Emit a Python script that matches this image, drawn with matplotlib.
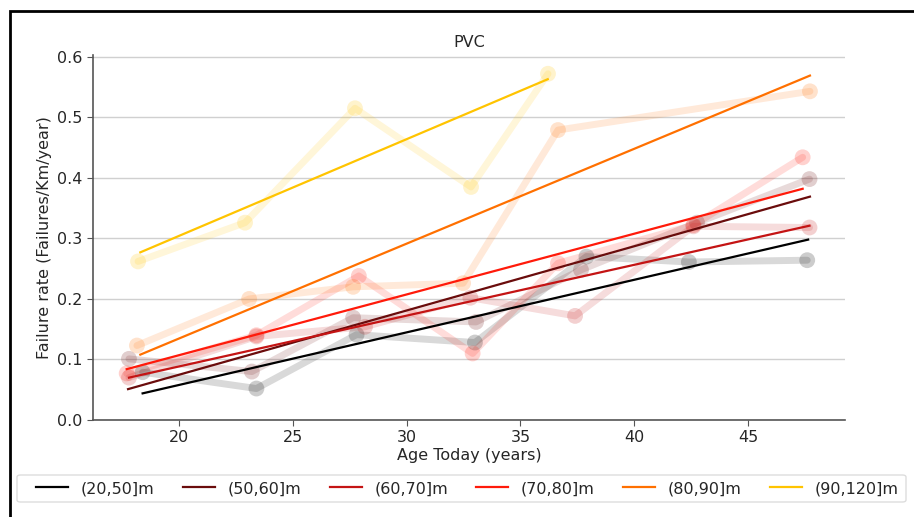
import numpy as np
import matplotlib.pyplot as plt
from matplotlib.patches import Rectangle, FancyBboxPatch

# 관로 길이 구간 (legend)
labels = ["(20,50]m", "(50,60]m", "(60,70]m", "(70,80]m", "(80,90]m", "(90,120]m"]
colors = ["#000000", "#6a0c0c", "#c41414", "#ff1a0a", "#ff7000", "#ffc400"]

# 관측값 (Age Today, Failure rate)
age_2050 = [18.4, 23.4, 27.8, 33.0, 37.9, 42.4, 47.6]
rate_2050 = [0.079, 0.052, 0.141, 0.128, 0.270, 0.261, 0.264]
age_5060 = [17.8, 23.2, 27.65, 33.05, 37.66, 42.76, 47.7]
rate_5060 = [0.101, 0.080, 0.169, 0.162, 0.248, 0.326, 0.398]
age_6070 = [17.8, 23.4, 28.17, 32.8, 37.4, 42.6, 47.7]
rate_6070 = [0.070, 0.138, 0.154, 0.202, 0.172, 0.320, 0.318]
age_7080 = [17.7, 23.4, 27.9, 32.9, 36.65, 42.6, 47.4]
rate_7080 = [0.077, 0.140, 0.238, 0.110, 0.259, 0.322, 0.434]
age_8090 = [18.15, 23.08, 27.65, 32.48, 36.65, 47.72]
rate_8090 = [0.123, 0.200, 0.220, 0.226, 0.479, 0.543]
age_90120 = [18.2, 22.9, 27.73, 32.83, 36.21]
rate_90120 = [0.262, 0.326, 0.515, 0.385, 0.572]

ages = [age_2050, age_5060, age_6070, age_7080, age_8090, age_90120]
rates = [rate_2050, rate_5060, rate_6070, rate_7080, rate_8090, rate_90120]

# 추세선 양 끝점
trend_x0 = [18.4, 17.76, 17.8, 17.7, 18.3, 18.3]
trend_x1 = [47.64, 47.72, 47.7, 47.4, 47.72, 36.2]
trend_y0 = [0.044, 0.051, 0.070, 0.084, 0.108, 0.277]
trend_y1 = [0.298, 0.369, 0.321, 0.382, 0.569, 0.563]

txt = "#262626"
plt.rcParams['text.color'] = txt
plt.rcParams['axes.labelcolor'] = txt
plt.rcParams['xtick.color'] = txt
plt.rcParams['ytick.color'] = txt

fig = plt.figure(figsize=(9.14, 5.17), dpi=100)
ax = fig.add_axes([93 / 914, 1 - 420 / 517, 752 / 914, 365 / 517])

handles = []
for i in range(len(labels)):
    ax.plot(ages[i], rates[i], color=colors[i], alpha=0.15, lw=5, solid_capstyle='round', zorder=1)
    ax.scatter(ages[i], rates[i], color=colors[i], alpha=0.2, s=130, edgecolors='none', zorder=2)
    h, = ax.plot([trend_x0[i], trend_x1[i]], [trend_y0[i], trend_y1[i]], color=colors[i], lw=1.6,
                 label=labels[i], zorder=3)
    handles.append(h)

ax.set_xlim(16.22, 49.26)
ax.set_ylim(0, 0.603)
ax.set_xticks([20, 25, 30, 35, 40, 45])
ax.set_yticks([0.0, 0.1, 0.2, 0.3, 0.4, 0.5, 0.6])
ax.yaxis.grid(True, color="#d0d0d0", lw=1)
ax.set_axisbelow(True)
for s in ["top", "right"]:
    ax.spines[s].set_visible(False)
for s in ["left", "bottom"]:
    ax.spines[s].set_color("#555555")
    ax.spines[s].set_linewidth(1.2)
ax.tick_params(labelsize=11.5, color="#555555", length=4)
ax.set_xlabel("Age Today (years)", fontsize=11.5, labelpad=2)
ax.set_ylabel("Failure rate (Failures/Km/year)", fontsize=11.5)
ax.set_title("PVC", fontsize=11.5)

# 범례: 내용은 expand, 테두리는 따로
fig.legend(handles=handles, loc="center", ncol=6, mode="expand", fontsize=11.5,
           bbox_to_anchor=(30 / 914, 1 - 503 / 517, 875 / 914, 29 / 517), borderaxespad=0,
           handlelength=2, frameon=False)
fig.patches.append(FancyBboxPatch((17 / 914, 1 - 502 / 517), 889 / 914, 27 / 517,
                                  boxstyle="round,pad=0,rounding_size=0.004", transform=fig.transFigure,
                                  facecolor="white", edgecolor="#dddddd", lw=1, zorder=0))

# 바깥 테두리
fig.patches.append(Rectangle((10 / 914, -0.1), 1.0, 1.1 - 11 / 517, transform=fig.transFigure,
                             fill=False, edgecolor="black", lw=2, clip_on=False))

fig.savefig("out.png", dpi=100)
